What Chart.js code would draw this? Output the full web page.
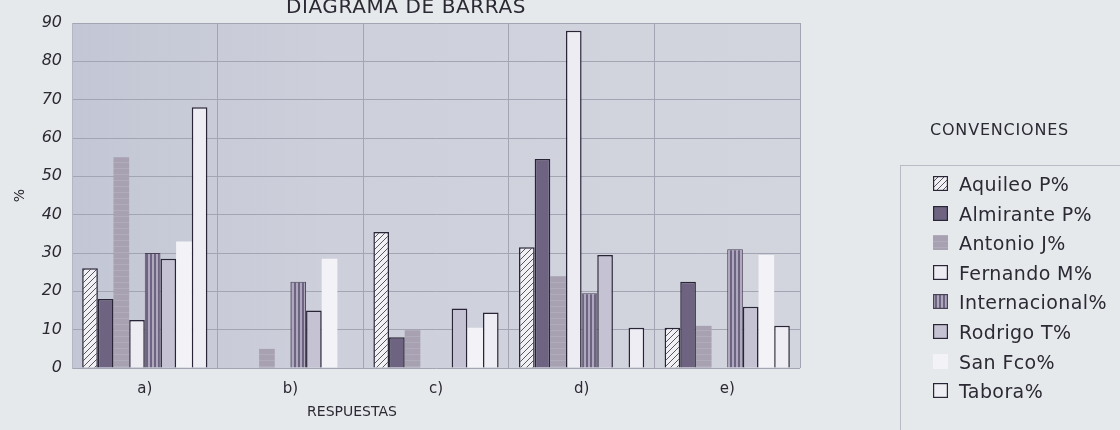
<!DOCTYPE html>
<html>
<head>
<meta charset="utf-8">
<script src="https://cdn.jsdelivr.net/npm/chart.js@4.4.1/dist/chart.umd.min.js"></script>
<style>
    body {
        margin: 0;
        width: 1120px;
        height: 430px;
        overflow: hidden;
        position: relative;
        background: #e6e9ec;
        font-family: "DejaVu Sans", sans-serif;
        color: #2b2934;
    }
    #chart { position: absolute; left: 0; top: 0; }
    .txt { position: absolute; white-space: nowrap; }
    #legend {
        position: absolute;
        left: 900px;
        top: 165px;
        width: 240px;
        height: 280px;
        border-top: 1px solid #b9bcc5;
        border-left: 1px solid #b9bcc5;
    }
    .item { position: absolute; left: 32px; width: 200px; height: 24px; font-size: 19px; line-height: 24px; white-space: nowrap; }
    .item canvas { position: absolute; left: 0; top: 4px; }
    .item span { position: absolute; left: 26px; top: 0; white-space: nowrap; letter-spacing: 0.4px; }
</style>
</head>
<body>
<canvas id="chart" width="1120" height="430"></canvas>
<div class="txt" style="left:406px;top:-6px;transform:translateX(-50%);font-size:20px;letter-spacing:0.6px">DIAGRAMA DE BARRAS</div>
<div class="txt" style="left:352px;top:403px;transform:translateX(-50%);font-size:14px">RESPUESTAS</div>
<div class="txt" style="left:930px;top:120px;font-size:16px;letter-spacing:0.8px">CONVENCIONES</div>
<div id="legend"></div>

<script>
const categories = ["a)", "b)", "c)", "d)", "e)"];
const seriesNames = ["Aquileo P%", "Almirante P%", "Antonio J%", "Fernando M%", "Internacional%", "Rodrigo T%", "San Fco%", "Tabora%"];

const aquileo = [26, 0, 35.5, 31.5, 10.5];
const almirante = [18, 0, 8, 54.5, 22.5];
const antonio = [55, 5, 10, 24, 11];
const fernando = [12.5, 0, 0, 88, 0];
const internacional = [30, 22.5, 0, 19.5, 31];
const rodrigo = [28.5, 15, 15.5, 29.5, 16];
const sanFco = [33, 28.5, 10.5, 0, 29.5];
const tabora = [68, 0, 14.5, 10.5, 11];

const yTicks = [0, 10, 20, 30, 40, 50, 60, 70, 80, 90];

const outline = "#2a2536";

// small canvas patterns for the printed hatching
function makePattern(kind) {
    const c = document.createElement("canvas");
    const g = c.getContext("2d");
    if (kind === "diag") {
        c.width = 6; c.height = 6;
        g.fillStyle = "#f1f1f4";
        g.fillRect(0, 0, 6, 6);
        g.strokeStyle = "#5a5564";
        g.lineWidth = 1;
        g.beginPath();
        g.moveTo(0, 6); g.lineTo(6, 0);
        g.moveTo(-1, 1); g.lineTo(1, -1);
        g.moveTo(5, 7); g.lineTo(7, 5);
        g.stroke();
    } else if (kind === "horiz") {
        c.width = 4; c.height = 6;
        g.fillStyle = "#a7a1b2";
        g.fillRect(0, 0, 4, 6);
        g.fillStyle = "#b1acbc";
        g.fillRect(0, 0, 4, 1);
    } else if (kind === "vert") {
        c.width = 4; c.height = 4;
        g.fillStyle = "#6c6480";
        g.fillRect(0, 0, 4, 4);
        g.fillStyle = "#aea7be";
        g.fillRect(0, 0, 2, 4);
    }
    return g.createPattern(c, "repeat");
}

const styles = [
    { fill: makePattern("diag"), border: outline, width: 1.5 },
    { fill: "#6e6482", border: outline, width: 1.5 },
    { fill: makePattern("horiz"), border: "rgba(0,0,0,0)", width: 0 },
    { fill: "#ececf2", border: outline, width: 1.5 },
    { fill: makePattern("vert"), border: "#4a4358", width: 1 },
    { fill: "#c5c3d3", border: outline, width: 1.5 },
    { fill: "#f3f3f7", border: "rgba(0,0,0,0)", width: 0 },
    { fill: "#ededf3", border: outline, width: 1.5 }
];

const seriesValues = [aquileo, almirante, antonio, fernando, internacional, rodrigo, sanFco, tabora];

const datasets = seriesNames.map((name, i) => ({
    label: name,
    data: seriesValues[i],
    backgroundColor: styles[i].fill,
    borderColor: styles[i].border,
    borderWidth: styles[i].width,
    borderSkipped: "bottom",
    barPercentage: 1,
    categoryPercentage: 0.86
}));

const plotBackground = {
    id: "plotBackground",
    beforeDraw(chart) {
        const { ctx, chartArea: a } = chart;
        const grad = ctx.createLinearGradient(a.left, 0, a.right, 0);
        grad.addColorStop(0, "#c3c6d4");
        grad.addColorStop(0.35, "#cdd0db");
        grad.addColorStop(1, "#d3d5de");
        ctx.save();
        ctx.fillStyle = grad;
        ctx.fillRect(a.left, a.top, a.right - a.left, a.bottom - a.top);
        ctx.restore();
    }
};

const chart = new Chart(document.getElementById("chart"), {
    type: "bar",
    data: { labels: categories, datasets },
    plugins: [plotBackground],
    options: {
        responsive: false,
        animation: false,
        layout: { padding: { top: 23, right: 320, bottom: 0, left: 0 } },
        plugins: {
            legend: { display: false },
            tooltip: { enabled: false }
        },
        scales: {
            x: {
                afterFit(scale) { scale.height = 62; },
                grid: { color: "#a3a5b3", drawTicks: false, offset: true },
                border: { display: false },
                ticks: {
                    color: "#2b2934",
                    padding: 12,
                    font: { family: "DejaVu Sans", size: 15 }
                }
            },
            y: {
                min: 0,
                max: 90,
                afterFit(scale) { scale.width = 72; },
                afterBuildTicks(scale) { scale.ticks = yTicks.map(v => ({ value: v })); },
                grid: { color: "#a3a5b3", drawTicks: false },
                border: { display: true, color: "#b4b6c2" },
                title: {
                    display: true,
                    text: "%",
                    color: "#2b2934",
                    padding: { top: 12, bottom: 0 },
                    font: { family: "DejaVu Sans", size: 14 }
                },
                ticks: {
                    color: "#2b2934",
                    padding: 10,
                    font: { family: "DejaVu Sans", size: 16, style: "italic" }
                }
            }
        }
    }
});

// html legend, swatches share the bar fills
const legend = document.getElementById("legend");
seriesNames.forEach((name, i) => {
    const item = document.createElement("div");
    item.className = "item";
    item.style.top = (6 + i * 29.6) + "px";
    const sw = document.createElement("canvas");
    sw.width = 15; sw.height = 15;
    const g = sw.getContext("2d");
    g.fillStyle = styles[i].fill;
    g.fillRect(0, 0, 15, 15);
    if (styles[i].width > 0) {
        g.strokeStyle = styles[i].border;
        g.lineWidth = 1.2;
        g.strokeRect(0.6, 0.6, 13.8, 13.8);
    }
    const label = document.createElement("span");
    label.textContent = name;
    item.appendChild(sw);
    item.appendChild(label);
    legend.appendChild(item);
});
</script>
</body>
</html>
